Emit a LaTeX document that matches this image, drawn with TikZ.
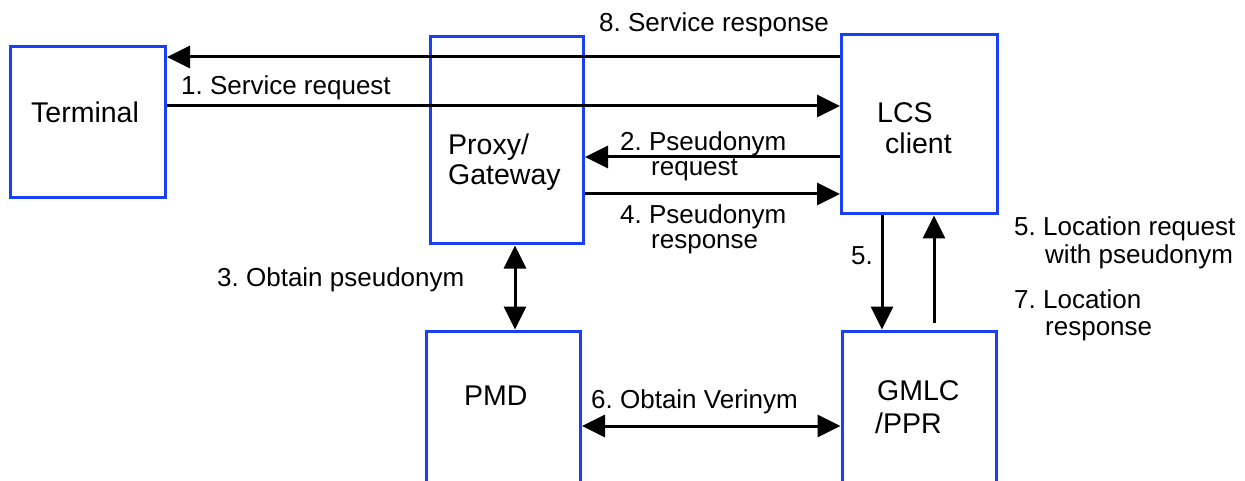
\documentclass[tikz,border=0pt]{standalone}
\usepackage{fontspec}
\setmainfont{Liberation Sans}
\usetikzlibrary{arrows.meta,calc}
\definecolor{boxblue}{RGB}{26,64,245}
\tikzset{
  elembox/.style={draw=boxblue, line width=3pt, inner sep=0pt, outer sep=1.5pt, anchor=north west},
  msg/.style={draw=black, line width=3pt, -{Triangle[length=23pt,width=22pt]}},
  msgboth/.style={draw=black, line width=3pt, {Triangle[length=23pt,width=22pt]}-{Triangle[length=23pt,width=22pt]}},
  msglabel/.style={inner sep=0pt, anchor=base west, font=\fontsize{26}{30}\selectfont\frenchspacing},
  elemtext/.style={inner sep=0pt, anchor=base west, font=\fontsize{28.5}{33}\selectfont}
}
\begin{document}
\begin{tikzpicture}[x=1pt,y=-1pt]
\useasboundingbox (0,0) rectangle (1245,481);
\clip (0,0) rectangle (1245,481);
\fill[white] (0,0) rectangle (1245,481);

% network elements
\node[elembox, minimum width=155.5pt, minimum height=150.5pt] (term)  at (8.5,45.5) {};
\node[elembox, minimum width=153.5pt, minimum height=207pt]   (proxy) at (428.5,35.5) {};
\node[elembox, minimum width=155.5pt, minimum height=179pt]   (lcs)   at (840,33.5) {};
\node[elembox, minimum width=154pt,   minimum height=170pt]   (pmd)   at (425,329.5) {};
\node[elembox, minimum width=154.5pt, minimum height=170pt]   (gmlc)  at (840.5,329.5) {};

% element names
\node[elemtext] (tTerm)  at (31,123)  {Terminal};
\node[elemtext] (tProx1) at (448,155) {Proxy/};
\node[elemtext] (tProx2) at (448,185) {Gateway};
\node[elemtext] (tLcs1)  at (877,123) {LCS};
\node[elemtext] (tLcs2)  at (885,154) {client};
\node[elemtext] (tPmd)   at (464,405) {PMD};
\node[elemtext] (tGm1)   at (877,400) {GMLC};
\node[elemtext] (tGm2)   at (875,433) {/PPR};

% message flow
\draw[msg] (lcs.west |- {(0,57)})  -- (term.east |- {(0,57)});
\draw[msg] (term.east |- {(0,106)}) -- (lcs.west |- {(0,106)});
\draw[msg] (lcs.west |- {(0,157)}) -- (proxy.east |- {(0,157)});
\draw[msg] (proxy.east |- {(0,194)}) -- (lcs.west |- {(0,194)});
\draw[msgboth] (proxy.south -| {(515,0)}) -- (pmd.north -| {(515,0)});
\draw[msg] (lcs.south -| {(882,0)}) -- (gmlc.north -| {(882,0)});
\coordinate (up7) at (934,323);
\draw[msg] (up7) -- (lcs.south -| up7);
\draw[msgboth] (pmd.east |- {(0,426)}) -- (gmlc.west |- {(0,426)});

% message labels
\node[msglabel] (l8)  at (599,32)  {8. Service response};
\node[msglabel] (l1)  at (181,95)  {1. Service request};
\node[msglabel] (l2a) at (620,151) {2. Pseudonym};
\node[msglabel] (l2b) at (651,176) {request};
\node[msglabel] (l4a) at (620,224) {4. Pseudonym};
\node[msglabel] (l4b) at (651,248) {response};
\node[msglabel] (l3)  at (217,287) {3. Obtain pseudonym};
\node[msglabel] (l5)  at (851,265) {5.};
\node[msglabel] (l5a) at (1014,236) {5. Location request};
\node[msglabel] (l5b) at (1045,263) {with pseudonym};
\node[msglabel] (l7a) at (1014,308) {7. Location};
\node[msglabel] (l7b) at (1045,335) {response};
\node[msglabel] (l6)  at (591,408) {6. Obtain Verinym};
\end{tikzpicture}
\end{document}
